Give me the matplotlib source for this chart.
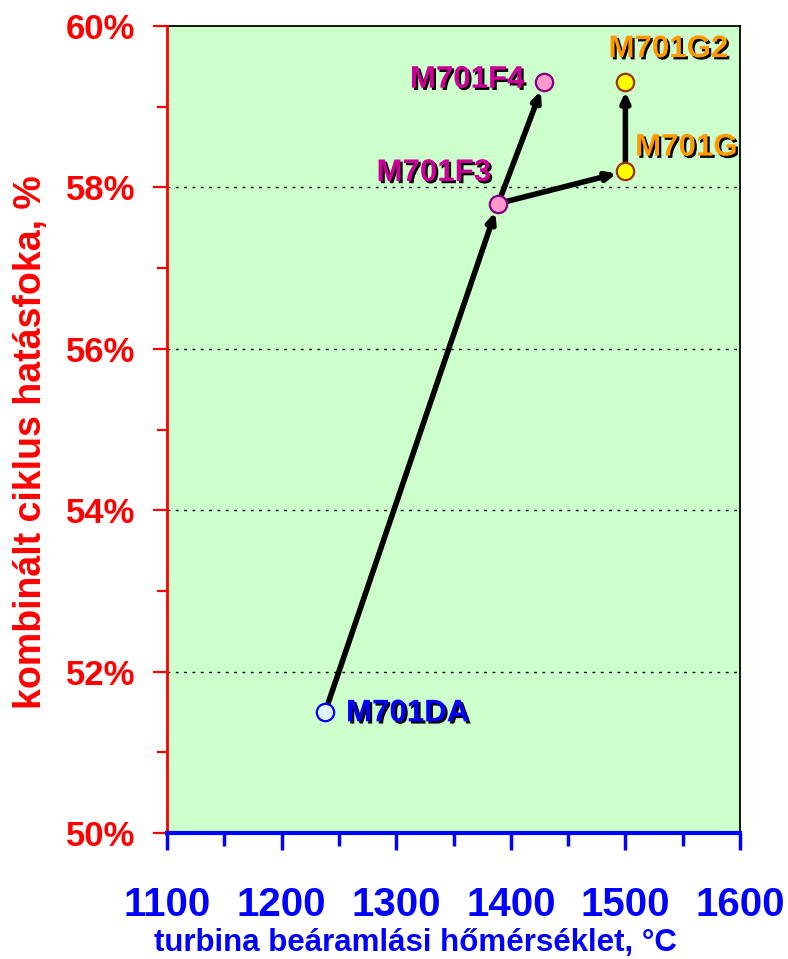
import matplotlib
matplotlib.use("Agg")
import matplotlib.pyplot as plt
import matplotlib.patheffects as pe
from matplotlib.ticker import MultipleLocator, PercentFormatter

# Gas turbine models: inlet temperature (°C) and combined-cycle efficiency (%)
models = ["M701DA", "M701F3", "M701F4", "M701G", "M701G2"]
temps = [1238, 1389, 1429, 1500, 1500]
effs = [51.5, 57.8, 59.3, 58.2, 59.3]
# development paths between models (from, to)
paths = [("M701DA", "M701F3"), ("M701F3", "M701F4"),
         ("M701F3", "M701G"), ("M701G", "M701G2")]

face = {"M701DA": "#dff6ff", "M701F3": "#ff99cc", "M701F4": "#ff99cc",
        "M701G": "#ffff00", "M701G2": "#ffff00"}
edge = {"M701DA": "#0000ff", "M701F3": "#800080", "M701F4": "#800080",
        "M701G": "#993300", "M701G2": "#993300"}
txtcol = {"M701DA": "#0000ff", "M701F3": "#cc0099", "M701F4": "#cc0099",
          "M701G": "#ff9900", "M701G2": "#ff9900"}
# label offsets in points and alignment
lab = {"M701DA": ((15, -1), "left"),
       "M701F3": ((-5, 22), "right"),
       "M701F4": ((-14, 2), "right"),
       "M701G": ((7, 17), "left"),
       "M701G2": ((31, 24), "center")}

fig = plt.figure(figsize=(7.88, 9.59), dpi=100)
ax = fig.add_axes([167/788, 1 - 833/959, (740-167)/788, (833-26)/959])
ax.set_facecolor("#ccffcc")

ax.set_xlim(1100, 1600)
ax.set_ylim(50, 60)

# dotted reference lines
for g in [52, 54, 56, 58]:
    ax.axhline(g, color="black", lw=1.0, ls=(0, (2, 4)), zorder=1)

pos = dict(zip(models, zip(temps, effs)))
for a, b in paths:
    ax.annotate("", xy=pos[b], xytext=pos[a],
                arrowprops=dict(arrowstyle="-|>,head_length=0.55,head_width=0.25",
                                color="black", lw=4,
                                shrinkA=6, shrinkB=6.5),
                zorder=3)

shadow = [pe.SimplePatchShadow(offset=(1.6, -1.6), shadow_rgbFace="black", alpha=1),
          pe.Normal()]
for m, x, y in zip(models, temps, effs):
    ax.plot(x, y, "o", ms=12.5, mfc=face[m], mec=edge[m], mew=1.6, zorder=4)
    off, ha = lab[m]
    ax.annotate(m, (x, y), xytext=off, textcoords="offset points",
                ha=ha, va="center", fontsize=22.5, fontweight="bold",
                family="Liberation Sans", color=txtcol[m],
                path_effects=shadow, zorder=5)

# axes styling
ax.spines["top"].set_color("black")
ax.spines["top"].set_linewidth(1.3)
ax.spines["left"].set_color("#ff0000")
ax.spines["left"].set_linewidth(2)
ax.spines["left"].set_zorder(3)
ax.spines["bottom"].set_color("#0000ff")
ax.spines["bottom"].set_linewidth(3)
ax.spines["bottom"].set_zorder(3.1)
ax.spines["right"].set_color("black")
ax.spines["right"].set_linewidth(1.3)

ax.yaxis.set_major_locator(MultipleLocator(2))
ax.yaxis.set_minor_locator(MultipleLocator(1))
ax.yaxis.set_major_formatter(PercentFormatter(xmax=100, decimals=0))
ax.xaxis.set_major_locator(MultipleLocator(100))
ax.xaxis.set_minor_locator(MultipleLocator(50))

ax.tick_params(axis="y", which="major", direction="out", length=10, width=1.6,
               color="#ff0000", labelcolor="#ff0000", pad=13, labelsize=25)
ax.tick_params(axis="y", which="minor", direction="out", length=7, width=1.6,
               color="#ff0000")
ax.tick_params(axis="x", which="major", direction="out", length=12, width=2.5,
               color="#0000ff", labelcolor="#0000ff", pad=26, labelsize=29)
ax.tick_params(axis="x", which="minor", direction="out", length=9, width=2.5,
               color="#0000ff")
for t in ax.get_yticklabels() + ax.get_xticklabels():
    t.set_fontweight("bold")
    t.set_family("Liberation Sans")

ax.set_xlabel("turbina beáramlási hőmérséklet, °C", color="#0000ff",
              fontsize=22.5, fontweight="bold", family="Liberation Sans",
              va="center")
ax.xaxis.set_label_coords((415 - 167) / 573, (833 - 943) / 807)
ax.set_ylabel("kombinált ciklus hatásfoka, %", color="#ff0000",
              fontsize=27, fontweight="bold", family="Liberation Sans",
              va="center")
ax.yaxis.set_label_coords((31 - 167) / 573, (833 - 442) / 807)

fig.savefig("out.png", dpi=100)
